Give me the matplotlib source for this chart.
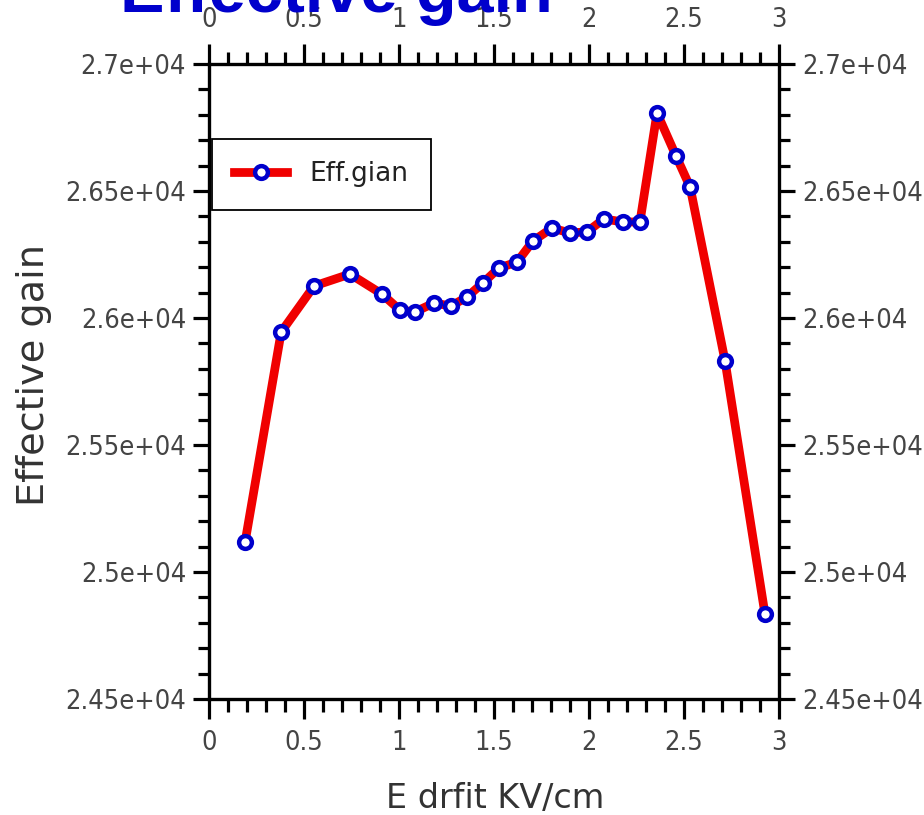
#!/usr/bin/env python3

import matplotlib

matplotlib.use("Agg")
from matplotlib import pyplot as plt
from matplotlib import font_manager
from matplotlib.ticker import MultipleLocator, FormatStrFormatter

# drift field scan (kV/cm) and the measured effective gain
e_drift = [0.19, 0.38, 0.553, 0.742, 0.911, 1.005, 1.084, 1.184, 1.274, 1.358,
           1.442, 1.526, 1.621, 1.705, 1.805, 1.90, 1.989, 2.079, 2.179, 2.268,
           2.358, 2.458, 2.532, 2.716, 2.926]
eff_gain = [25118, 25945, 26126, 26173, 26094, 26031, 26024, 26059, 26047, 26083,
            26138, 26197, 26220, 26303, 26354, 26335, 26339, 26390, 26378, 26378,
            26807, 26638, 26516, 25831, 24835]

x_lim = (0, 3)
y_lim = (24500, 27000)


def tick_font():
    # condensed DejaVu for the numbers if the system has it
    for path in font_manager.findSystemFonts():
        if path.endswith("DejaVuSansCondensed.ttf"):
            return font_manager.FontProperties(fname=path, size=19.5)
    return font_manager.FontProperties(family="DejaVu Sans", size=17)


def main():
    fig = plt.figure(figsize=(9.24, 8.15), dpi=100)
    ax = fig.add_axes([209 / 924, 1 - 699 / 815, 570 / 924, 635 / 815])

    ax.plot(e_drift, eff_gain, "-", color="#f00000", lw=6.3,
            marker="o", ms=9.2, mfc="white", mec="#0000cc", mew=3.2,
            label="Eff.gian")

    ax.set_xlim(*x_lim)
    ax.set_ylim(*y_lim)
    ax.xaxis.set_major_locator(MultipleLocator(0.5))
    ax.xaxis.set_minor_locator(MultipleLocator(0.1))
    ax.yaxis.set_major_locator(MultipleLocator(500))
    ax.yaxis.set_minor_locator(MultipleLocator(100))
    ax.xaxis.set_major_formatter(FormatStrFormatter("%g"))
    ax.yaxis.set_major_formatter(FormatStrFormatter("%.3g"))

    for side in ax.spines.values():
        side.set_linewidth(2.4)
        side.set_color("black")

    ax.tick_params(which="both", direction="out", top=True, right=True,
                   labeltop=True, labelright=True, width=2.3, color="black")
    ax.tick_params(axis="x", which="major", length=14.5, pad=8,
                   labelcolor="#444444")
    ax.tick_params(axis="x", which="minor", length=9)
    ax.tick_params(axis="y", which="major", length=11.5, pad=5,
                   labelcolor="#444444")
    ax.tick_params(axis="y", which="minor", length=8)

    fp = tick_font()
    for axis in (ax.xaxis, ax.yaxis):
        for tick in axis.get_major_ticks():
            tick.label1.set_fontproperties(fp)
            tick.label2.set_fontproperties(fp)

    ax.set_xlabel("E drfit KV/cm", fontsize=24, color="#333333")
    ax.set_ylabel("Effective gain", fontsize=27.5, color="#333333")
    ax.xaxis.set_label_coords(0.502, -0.13)
    ax.yaxis.set_label_coords(-0.275, 0.51)

    leg = ax.legend(loc="upper left", bbox_to_anchor=(0.005, 0.882),
                    borderaxespad=0, fontsize=19, fancybox=False,
                    framealpha=1, edgecolor="black", handlelength=2.0,
                    handletextpad=0.85, borderpad=0.85)
    leg.get_frame().set_linewidth(1.3)
    for txt in leg.get_texts():
        txt.set_color("#222222")

    fig.text(120 / 924, 1 - 12 / 815, "Effective gain", fontsize=48,
             fontweight="bold", family="Liberation Sans", color="#0000cc",
             va="baseline", ha="left")

    fig.savefig("out.png", dpi=100)


if __name__ == "__main__":
    main()
